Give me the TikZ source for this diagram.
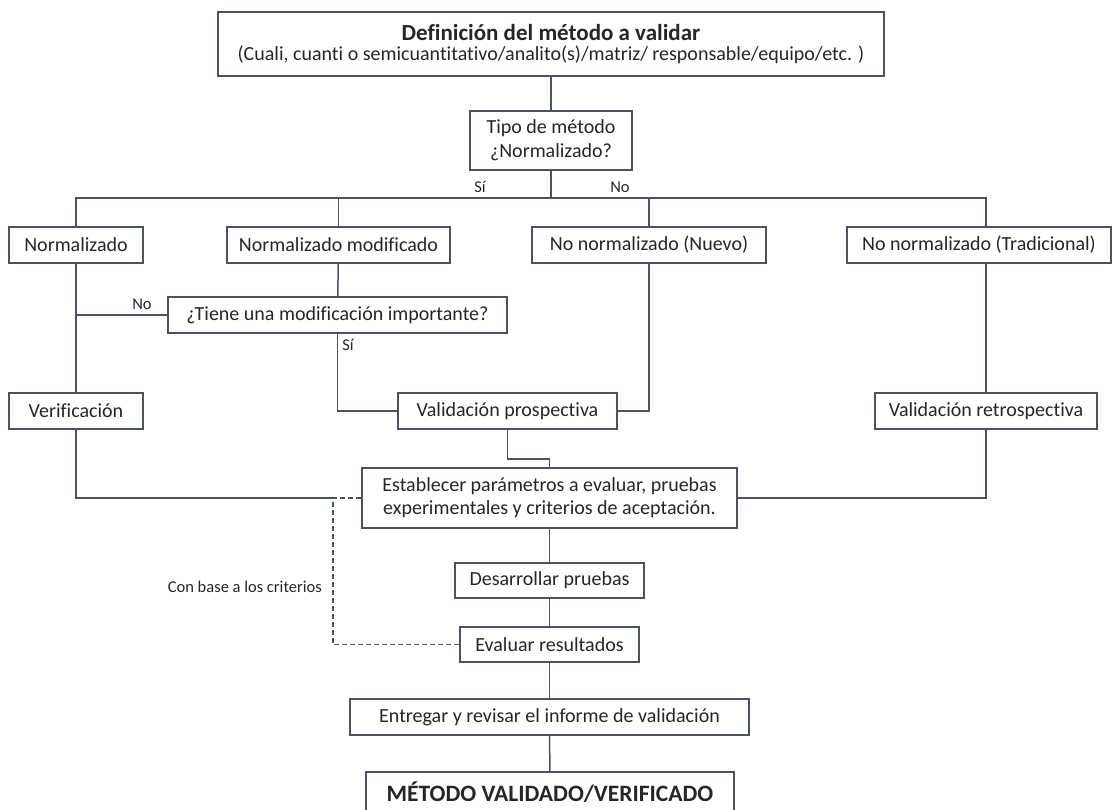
\documentclass[tikz,border=0pt]{standalone}
\usepackage{fontspec}
\setmainfont{Carlito}[Ligatures=NoCommon]
\usetikzlibrary{positioning, calc}
\definecolor{boxgray}{HTML}{4A5361}
\definecolor{txtgray}{HTML}{262626}

\begin{document}
\begin{tikzpicture}[x=1pt, y=-1pt,
  box/.style={draw=boxgray, line width=1.5pt, fill=white, align=center,
              inner sep=2pt, font=\fontsize{20}{23}\selectfont, text=txtgray},
  conn/.style={draw=boxgray, line width=1.5pt},
  lbl/.style={font=\fontsize{16.5}{18}\selectfont, text=txtgray, inner sep=1pt}
]
  \useasboundingbox[fill=white] (0,0) rectangle (1113,810);

  % Definition and type
  \node[box, minimum width=666, minimum height=64, font=\fontsize{20}{19.5}\selectfont] (def) at (551,44)
    {{\bfseries\fontsize{23}{24}\selectfont Definición del método a validar}\\
     (Cuali, cuanti o semicuantitativo/analito(s)/matriz/ responsable/equipo/etc. )};
  \node[box, minimum width=162, minimum height=59, font=\fontsize{20}{24}\selectfont] (tipo) at (551,140.5)
    {Tipo de método\\¿Normalizado?};
  \coordinate (split) at (551,198);
  \node[lbl] (si1) at (480,187) {Sí};
  \node[lbl] (no1) at (620,187) {No};

  % Method types
  \node[box, minimum width=134, minimum height=36] (norm) at (76,245) {Normalizado};
  \node[box, minimum width=223, minimum height=36] (nmod) at (338.5,245) {Normalizado modificado};
  \node[box, minimum width=234, minimum height=36] (nuevo) at (649,245) {No normalizado (Nuevo)};
  \node[box, minimum width=264, minimum height=36] (trad) at (979,245) {No normalizado (Tradicional)};
  \node[box, minimum width=339, minimum height=36] (tiene) at (337.5,315) {¿Tiene una modificación importante?};
  \node[lbl] (no2) at (142,304) {No};
  \node[lbl] (si2) at (348,345) {Sí};

  % Verification / validation
  \node[box, minimum width=134, minimum height=36] (verif) at (76,411) {Verificación};
  \node[box, minimum width=219, minimum height=36] (prosp) at (507.5,411) {Validación prospectiva};
  \node[box, minimum width=222, minimum height=36] (retro) at (986,411) {Validación retrospectiva};

  % Common steps
  \node[box, minimum width=375, minimum height=60] (estab) at (549.5,498)
    {Establecer parámetros a evaluar, pruebas\\experimentales y criterios de aceptación.};
  \node[box, minimum width=189, minimum height=35] (desar) at (549.5,580.5) {Desarrollar pruebas};
  \node[box, minimum width=179, minimum height=35] (evaluar) at (549.5,644.5) {Evaluar resultados};
  \node[box, minimum width=399, minimum height=36] (entregar) at (549.5,717) {Entregar y revisar el informe de validación};
  \node[box, minimum width=368, minimum height=40, font=\bfseries\fontsize{23.5}{25}\selectfont] (metodo) at (550,792)
    {MÉTODO VALIDADO/VERIFICADO};
  \coordinate (crit) at (333,498);
  \node[lbl, anchor=east] (critlbl) at (323,587) {Con base a los criterios};

  % Connectors
  \draw[conn] (def) -- (tipo);
  \draw[conn] (tipo) -- (split);
  \draw[conn] (norm.north) |- (split) -| (retro.north |- trad.north);
  \draw[conn] (nmod.north) -- (nmod.north |- split);
  \draw[conn] (nuevo.north) -- (nuevo.north |- split);
  \draw[conn] (nmod) -- (tiene);
  \draw[conn] (norm) -- (verif);
  \draw[conn] (tiene.west) -- (tiene.west -| norm.south);
  \draw[conn] (tiene.south) |- (prosp.west);
  \draw[conn] (nuevo.south) |- (prosp.east);
  \draw[conn] (retro.north |- trad.south) -- (retro.north);
  \draw[conn] (verif.south) |- (crit);
  \draw[conn, line width=1.1pt, dash pattern=on 5pt off 3pt] (estab.west) -- (crit) |- (evaluar.west);
  \draw[conn] (retro.south) |- (estab.east);
  \draw[conn] (prosp.south) -- ++(0,29) -| (estab.north);
  \draw[conn] (estab) -- (desar);
  \draw[conn] (desar) -- (evaluar);
  \draw[conn] (evaluar) -- (entregar);
  \draw[conn] (entregar) -- (metodo);
\end{tikzpicture}
\end{document}
